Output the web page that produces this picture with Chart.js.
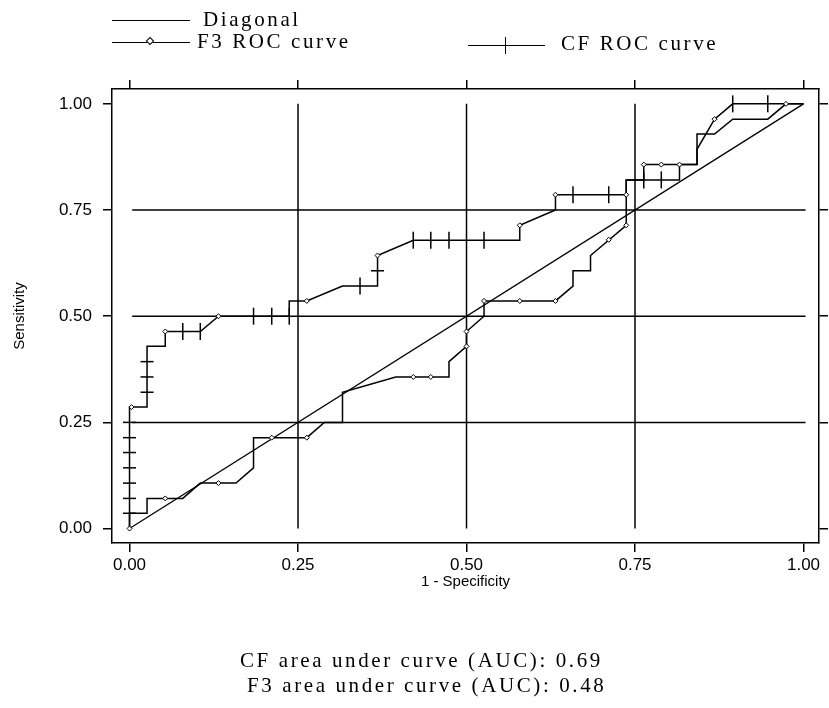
<!DOCTYPE html>
<html>
<head>
<meta charset="utf-8">
<script src="https://cdn.jsdelivr.net/npm/chart.js@4.4.1/dist/chart.umd.min.js"></script>
<style>
html,body{margin:0;padding:0;background:#fff;}
#wrap{position:relative;width:829px;height:708px;overflow:hidden;}
#rocChart{position:absolute;left:0;top:0;}
.txt{position:absolute;font-family:"Liberation Serif","Times New Roman",serif;font-size:21px;color:#000;white-space:nowrap;line-height:21px;letter-spacing:2.6px;}
.key{position:absolute;height:0;border-top:1.5px solid #000;}
.dia{position:absolute;width:4px;height:4px;border:1px solid #000;background:#fff;transform:rotate(45deg);}
.tick{position:absolute;width:0;height:17px;border-left:1.5px solid #000;}
</style>
</head>
<body>
<div id="wrap">
<canvas id="rocChart" width="829" height="708"></canvas>

<div class="key" style="left:112px;top:20px;width:78px;"></div>
<div class="txt" style="left:203px;top:9px;">Diagonal</div>

<div class="key" style="left:112px;top:42px;width:78px;"></div>
<div class="dia" style="left:147px;top:38px;"></div>
<div class="txt" style="left:197px;top:31px;">F3 ROC curve</div>

<div class="key" style="left:468px;top:45px;width:77px;"></div>
<div class="tick" style="left:505px;top:37px;"></div>
<div class="txt" style="left:561px;top:33px;">CF ROC curve</div>

<div class="txt" style="left:240px;top:650px;">CF area under curve (AUC): 0.69</div>
<div class="txt" style="left:247px;top:675px;">F3 area under curve (AUC): 0.48</div>
</div>

<script>
document.addEventListener("DOMContentLoaded", function () {

/* DATA */

const tickVals = [0, 0.25, 0.5, 0.75, 1];
const gridVals = [0.25, 0.5, 0.75];

const diagX = [0, 1];
const diagY = [0, 1];

// CF ROC curve (1 - specificity, sensitivity)
const cfX = [0, 0, 0.026, 0.026, 0.053, 0.053, 0.105, 0.132, 0.237, 0.237, 0.263, 0.316, 0.368, 0.368,
  0.421, 0.579, 0.579, 0.632, 0.632, 0.737, 0.737, 0.816, 0.816, 0.842, 0.842, 0.868, 0.895, 1];
const cfY = [0, 0.286, 0.286, 0.429, 0.429, 0.464, 0.464, 0.5, 0.5, 0.536, 0.536, 0.571, 0.571, 0.643,
  0.679, 0.679, 0.714, 0.75, 0.786, 0.786, 0.821, 0.821, 0.857, 0.857, 0.893, 0.964, 1, 1];

// CF censor marks on vertical runs
const cfMarkVx = [0, 0, 0, 0, 0, 0, 0, 0.026, 0.026, 0.026, 0.368];
const cfMarkVy = [0.036, 0.071, 0.107, 0.143, 0.179, 0.214, 0.25, 0.321, 0.357, 0.393, 0.607];

// CF censor marks on horizontal runs
const cfMarkHx = [0.079, 0.105, 0.184, 0.211, 0.237, 0.342, 0.421, 0.447, 0.474, 0.526, 0.658, 0.711,
  0.763, 0.789, 0.895, 0.947];
const cfMarkHy = [0.464, 0.464, 0.5, 0.5, 0.5, 0.571, 0.679, 0.679, 0.679, 0.679, 0.786, 0.786,
  0.821, 0.821, 1, 1];

const cfDotX = [0.003, 0.053, 0.132, 0.263, 0.368, 0.579, 0.632, 0.737];
const cfDotY = [0.286, 0.464, 0.5, 0.536, 0.643, 0.714, 0.786, 0.786];

// F3 ROC curve
const f3X = [0, 0, 0.026, 0.026, 0.079, 0.105, 0.158, 0.184, 0.184, 0.263, 0.289, 0.316, 0.316, 0.395,
  0.474, 0.474, 0.5, 0.5, 0.526, 0.526, 0.632, 0.658, 0.658, 0.684, 0.684, 0.737, 0.737, 0.763, 0.763,
  0.842, 0.842, 0.868, 0.895, 0.947, 0.974, 1];
const f3Y = [0, 0.036, 0.036, 0.071, 0.071, 0.107, 0.107, 0.143, 0.214, 0.214, 0.25, 0.25, 0.321, 0.357,
  0.357, 0.393, 0.429, 0.464, 0.5, 0.536, 0.536, 0.571, 0.607, 0.607, 0.643, 0.714, 0.821, 0.821, 0.857,
  0.857, 0.929, 0.929, 0.964, 0.964, 1, 1];

const f3DotX = [0, 0.053, 0.132, 0.211, 0.263, 0.421, 0.447, 0.5, 0.5, 0.526, 0.579, 0.632, 0.711,
  0.737, 0.763, 0.789, 0.816, 0.868, 0.974];
const f3DotY = [0, 0.071, 0.107, 0.214, 0.214, 0.357, 0.357, 0.429, 0.464, 0.536, 0.536, 0.536, 0.68,
  0.714, 0.857, 0.857, 0.857, 0.964, 1];

function pts(xs, ys) {
  return xs.map(function (v, i) { return { x: v, y: ys[i] }; });
}

/* REFERENCE LINES AT 0.25 / 0.50 / 0.75 */

const refLines = {
  id: "refLines",
  beforeDatasetsDraw(chart) {
    const ctx = chart.ctx;
    const x = chart.scales.x;
    const y = chart.scales.y;
    ctx.save();
    ctx.strokeStyle = "#000";
    ctx.lineWidth = 1.5;
    gridVals.forEach(function (v) {
      ctx.beginPath();
      ctx.moveTo(x.getPixelForValue(0.004), y.getPixelForValue(v));
      ctx.lineTo(x.getPixelForValue(1.003), y.getPixelForValue(v));
      ctx.stroke();
      ctx.beginPath();
      ctx.moveTo(x.getPixelForValue(v), y.getPixelForValue(0));
      ctx.lineTo(x.getPixelForValue(v), y.getPixelForValue(1));
      ctx.stroke();
    });
    ctx.restore();
  }
};

const setTicks = function (s) { s.ticks = tickVals.map(function (v) { return { value: v }; }); };
const frameGrid = { drawOnChartArea: false, color: "#000", lineWidth: 1.5, tickLength: 9 };
const frameBorder = { display: true, color: "#000", width: 1.5 };
const tickFont = { family: "'Liberation Sans', Arial, sans-serif", size: 17 };

const ctx = document.getElementById("rocChart").getContext("2d");

new Chart(ctx, {

type: "scatter",

data: {
datasets: [
{
label: "CF marks V",
data: pts(cfMarkVx, cfMarkVy),
showLine: false,
pointStyle: "line",
pointRadius: 6.5,
pointBorderWidth: 1.5,
pointBorderColor: "#000"
},
{
label: "CF marks H",
data: pts(cfMarkHx, cfMarkHy),
showLine: false,
pointStyle: "line",
pointRotation: 90,
pointRadius: 8.5,
pointBorderWidth: 1.5,
pointBorderColor: "#000"
},
{
label: "CF dots",
data: pts(cfDotX, cfDotY),
showLine: false,
pointStyle: "rectRot",
pointRadius: 2.5,
pointBorderWidth: 1,
pointBorderColor: "#000",
pointBackgroundColor: "#fff"
},
{
label: "F3 dots",
data: pts(f3DotX, f3DotY),
showLine: false,
pointStyle: "rectRot",
pointRadius: 2.5,
pointBorderWidth: 1,
pointBorderColor: "#000",
pointBackgroundColor: "#fff"
},
{
label: "CF ROC curve",
data: pts(cfX, cfY),
showLine: true,
borderColor: "#000",
borderWidth: 1.5,
pointRadius: 0
},
{
label: "F3 ROC curve",
data: pts(f3X, f3Y),
showLine: true,
borderColor: "#000",
borderWidth: 1.5,
pointRadius: 0
},
{
label: "Diagonal",
data: pts(diagX, diagY),
showLine: true,
borderColor: "#000",
borderWidth: 1.3,
pointRadius: 0
}
]
},

options: {

responsive: false,
animation: false,
events: [],

layout: { padding: 0 },

plugins: {
legend: { display: false },
tooltip: { enabled: false }
},

scales: {

x: {
type: "linear",
position: "bottom",
min: -0.026,
max: 1.023,
afterBuildTicks: setTicks,
afterFit: function (s) { s.height = 165; },
grid: frameGrid,
border: frameBorder,
ticks: {
color: "#000",
font: tickFont,
padding: 3,
maxRotation: 0,
callback: function (v) { return v.toFixed(2); }
},
title: {
display: true,
text: "1 - Specificity",
color: "#000",
font: { family: "'Liberation Sans', Arial, sans-serif", size: 15 },
padding: { top: 0, bottom: 117 }
}
},

x2: {
type: "linear",
position: "top",
min: -0.026,
max: 1.023,
afterBuildTicks: setTicks,
afterFit: function (s) { s.height = 89; },
grid: frameGrid,
border: frameBorder,
ticks: { display: false }
},

y: {
type: "linear",
position: "left",
min: -0.034,
max: 1.035,
afterBuildTicks: setTicks,
afterFit: function (s) { s.width = 112; },
grid: frameGrid,
border: frameBorder,
ticks: {
color: "#000",
font: tickFont,
padding: 11,
callback: function (v) { return v.toFixed(2); }
},
title: {
display: true,
text: "Sensitivity",
color: "#000",
font: { family: "'Liberation Sans', Arial, sans-serif", size: 15 },
padding: { top: 11, bottom: 0 }
}
},

y2: {
type: "linear",
position: "right",
min: -0.034,
max: 1.035,
afterBuildTicks: setTicks,
afterFit: function (s) { s.width = 7; },
grid: frameGrid,
border: frameBorder,
ticks: { display: false }
}

}

},

plugins: [refLines]

});

});
</script>
</body>
</html>
